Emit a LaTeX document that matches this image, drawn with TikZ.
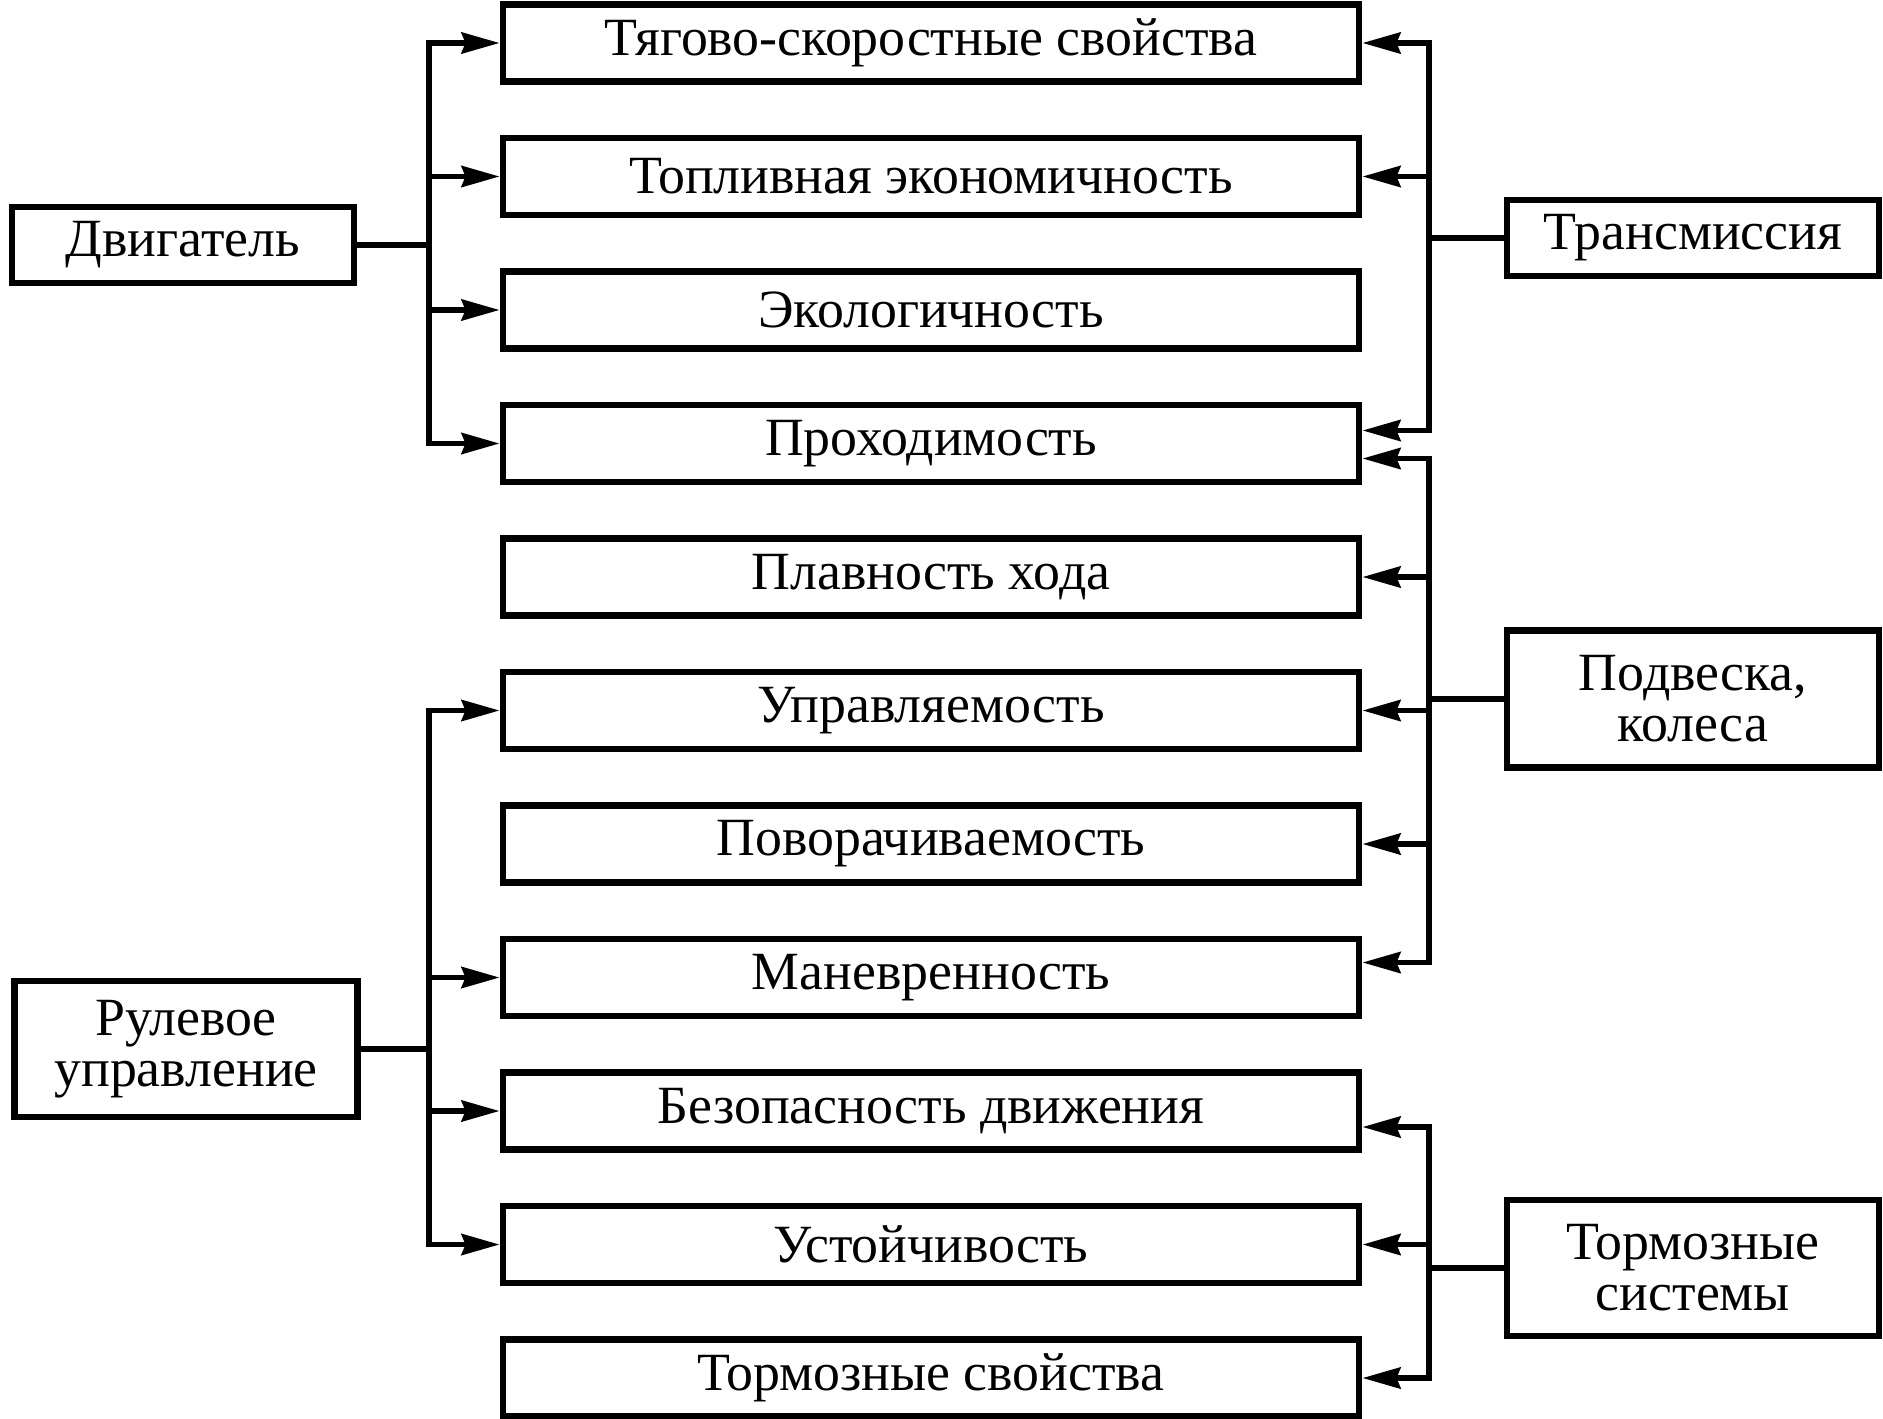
\documentclass[tikz,border=0pt]{standalone}
\usepackage{fontspec}
\setmainfont{Liberation Serif}
\usetikzlibrary{arrows.meta}

\tikzset{
  prop/.style = {draw, line width=1.8pt, minimum width=8.56cm, minimum height=0.77cm,
                 inner sep=0pt, font=\fontsize{15.3}{14.5}\selectfont},
  unit/.style = {draw, line width=1.8pt, inner sep=0pt, align=center,
                 font=\fontsize{15.3}{14.5}\selectfont},
  post/.style = {-{Stealth[length=0.38cm, width=0.21cm, inset=0.04cm]}, line width=1.6pt},
  link/.style = {line width=1.6pt}
}

\begin{document}
\begin{tikzpicture}[x=0.01cm, y=-0.01cm]
  \useasboundingbox (0,0) rectangle (1883,1418);
  % properties in the middle column
  \node[prop] (tyag)   at (931,43)     {Тягово-скоростные свойства};
  \node[prop] (topl)   at (931,176.5)  {Топливная экономичность};
  \node[prop] (ekol)   at (931,310)    {Экологичность};
  \node[prop] (prokh)  at (931,443.5)  {Проходимость};
  \node[prop] (plavn)  at (931,577)    {Плавность хода};
  \node[prop] (uprav)  at (931,710.5)  {Управляемость};
  \node[prop] (povor)  at (931,844)    {Поворачиваемость};
  \node[prop] (manevr) at (931,977.5)  {Маневренность};
  \node[prop] (bezop)  at (931,1111)   {Безопасность движения};
  \node[prop] (ustoi)  at (931,1244.5) {Устойчивость};
  \node[prop] (torm)   at (931,1378)   {Тормозные свойства};
  % units
  \node[unit, minimum width=3.42cm, minimum height=0.76cm] (dvig) at (183,245) {Двигатель};
  \node[unit, minimum width=3.43cm, minimum height=1.36cm] (rul) at (186,1049) {Рулевое\\управление};
  \node[unit, minimum width=3.72cm, minimum height=0.76cm] (transm) at (1693,238) {Трансмиссия};
  \node[unit, minimum width=3.72cm, minimum height=1.37cm] (podv) at (1693,699) {Подвеска,\\колеса};
  \node[unit, minimum width=3.72cm, minimum height=1.36cm] (tormsys) at (1693,1268) {Тормозные\\системы};
  % junctions
  \coordinate (dj) at (429,245);
  \coordinate (rj) at (429,1049);
  \coordinate (tj) at (1429,238);
  \coordinate (pj) at (1429,699);
  \coordinate (sj) at (1429,1268);
  % engine
  \draw[link] (dvig) -- (dj);
  \draw[post] (dj) |- (tyag);
  \draw[post] (dj) |- (topl);
  \draw[post] (dj) |- (ekol);
  \draw[post] (dj) |- (prokh);
  % steering
  \draw[link] (rul) -- (rj);
  \draw[post] (rj) |- (uprav);
  \draw[post] (rj) |- (manevr);
  \draw[post] (rj) |- (bezop);
  \draw[post] (rj) |- (ustoi);
  % transmission
  \draw[link] (transm) -- (tj);
  \draw[post] (tj) |- (tyag);
  \draw[post] (tj) |- (topl);
  \draw[post] (tj) |- ([yshift=0.13cm]prokh.east);
  % suspension, wheels
  \draw[link] (podv) -- (pj);
  \draw[post] (pj) |- ([yshift=-0.15cm]prokh.east);
  \draw[post] (pj) |- (plavn);
  \draw[post] (pj) |- (uprav);
  \draw[post] (pj) |- (povor);
  \draw[post] (pj) |- ([yshift=0.15cm]manevr.east);
  % brakes
  \draw[link] (tormsys) -- (sj);
  \draw[post] (sj) |- ([yshift=-0.16cm]bezop.east);
  \draw[post] (sj) |- (ustoi);
  \draw[post] (sj) |- (torm);
\end{tikzpicture}
\end{document}
